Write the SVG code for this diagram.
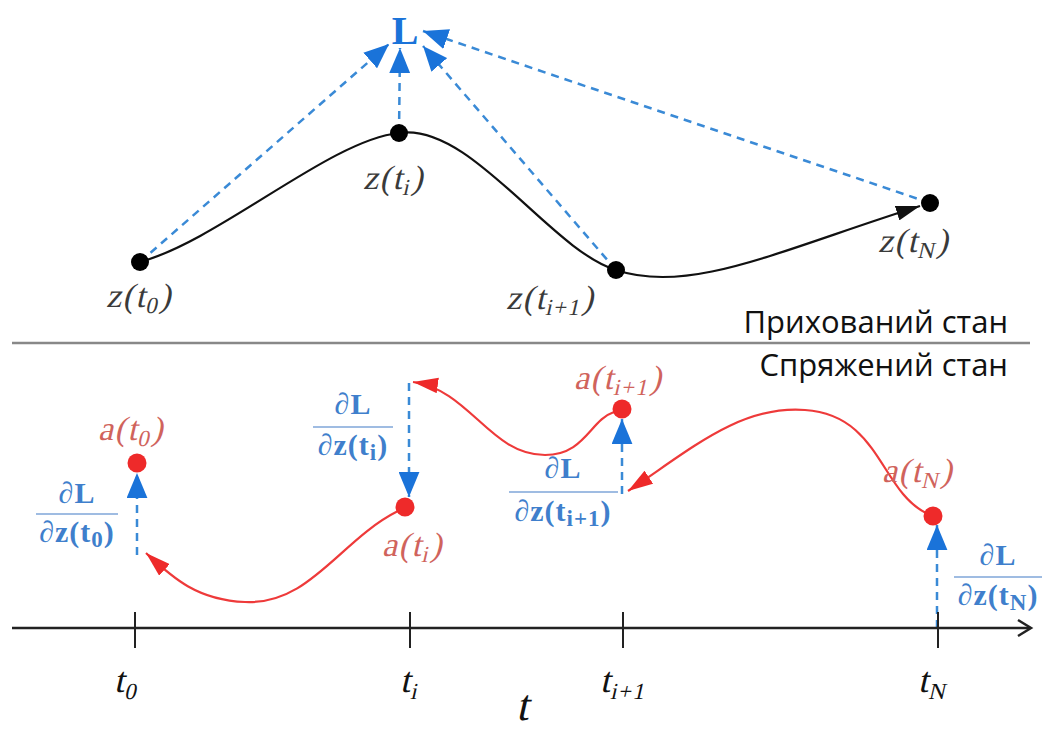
<svg xmlns="http://www.w3.org/2000/svg" width="1050" height="731" viewBox="0 0 1050 731">
<style>
.math{font-family:"Liberation Serif","Times New Roman",serif;font-style:normal;letter-spacing:1.5px;}
.zl{font-size:34px;fill:#3a3a3a;}
.al{font-size:34px;fill:#d0635c;}
.tl{font-size:36px;fill:#111;}
.fr{font-family:"Liberation Serif","Times New Roman",serif;font-weight:bold;font-size:30px;fill:#3f7fcc;text-anchor:middle;letter-spacing:1px;}
.fl{stroke:#7fa6d9;stroke-width:1.6;}
.sub{font-size:23px;}
.bd{stroke:#3a8ad6;stroke-width:2.5;stroke-dasharray:8 6;fill:none;}
.rc{stroke:#ee3a3a;stroke-width:2.2;fill:none;}
.lab{font-family:"Open Sans","Liberation Sans",sans-serif;font-size:31px;fill:#111;text-anchor:end;}
</style>
<defs>
<marker id="abig" viewBox="0 0 12 10" refX="12" refY="5" markerWidth="25" markerHeight="21" markerUnits="userSpaceOnUse" orient="auto">
<path d="M0,0 L12,5 L0,10 z" fill="#1a73d9"/>
</marker>
<marker id="ak" viewBox="0 0 16 10" refX="16" refY="5" markerWidth="24" markerHeight="15" markerUnits="userSpaceOnUse" orient="auto">
<path d="M0,0 L16,5 L0,10 z" fill="#111"/>
</marker>
<marker id="ar" viewBox="0 0 16 10" refX="16" refY="5" markerWidth="25" markerHeight="16" markerUnits="userSpaceOnUse" orient="auto">
<path d="M0,0 L16,5 L0,10 z" fill="#ee2a2a"/>
</marker>
</defs>

<g id="connectors">
<path d="M140,262 C220,240 330,140 399,133 C470,122 550,250 616,270 C690,295 780,250 920,206" stroke="#111" stroke-width="2.2" fill="none" marker-end="url(#ak)"/>
<path class="bd" d="M140,262 L389,44" marker-end="url(#abig)"/>
<path class="bd" d="M399,133 L400,48" marker-end="url(#abig)"/>
<path class="bd" d="M616,270 L423,46" marker-end="url(#abig)"/>
<path class="bd" d="M930,203 L423,31" marker-end="url(#abig)"/>
<line x1="12" y1="343" x2="1030" y2="343" stroke="#888" stroke-width="2.5"/>
<path class="bd" d="M137,555 L137,473" marker-end="url(#abig)"/>
<path class="bd" d="M409,383 L409,497" marker-end="url(#abig)"/>
<path class="bd" d="M622,494 L622,419" marker-end="url(#abig)"/>
<path class="bd" d="M937,628 L937,525" marker-end="url(#abig)"/>
<path class="rc" d="M926,513 C880,490 880,415 805,410 C740,405 690,450 628,491" marker-end="url(#ar)"/>
<path class="rc" d="M614,412 C590,420 585,455 545,455 C490,455 470,390 413,382" marker-end="url(#ar)"/>
<path class="rc" d="M398,511 C340,540 310,605 245,602 C195,600 170,575 146,553" marker-end="url(#ar)"/>
<line x1="12" y1="628" x2="1030" y2="628" stroke="#222" stroke-width="2.5"/>
<path d="M1018,620 L1031,628 L1018,636" stroke="#222" stroke-width="2.5" fill="none"/>
<line x1="135" y1="612" x2="135" y2="648" stroke="#222" stroke-width="2"/>
<line x1="410" y1="612" x2="410" y2="648" stroke="#222" stroke-width="2"/>
<line x1="623" y1="612" x2="623" y2="648" stroke="#222" stroke-width="2"/>
<line x1="938" y1="612" x2="938" y2="648" stroke="#222" stroke-width="2"/>
</g>

<g id="node-L"><text x="405" y="44" font-family="Liberation Serif,serif" font-weight="bold" font-size="40" fill="#1a73d9" text-anchor="middle">L</text></g>

<g id="node-z0"><circle cx="140" cy="262" r="9" fill="#000"/><text class="math zl" transform="translate(106 307) skewX(-13)">z(t<tspan class="sub" dy="6">0</tspan><tspan dy="-6">)</tspan></text></g>
<g id="node-zi"><circle cx="399" cy="133" r="9" fill="#000"/><text class="math zl" transform="translate(363 189) skewX(-13)">z(t<tspan class="sub" dy="6">i</tspan><tspan dy="-6">)</tspan></text></g>
<g id="node-zi1"><circle cx="616" cy="270" r="9" fill="#000"/><text class="math zl" transform="translate(506 309) skewX(-13)">z(t<tspan class="sub" dy="6">i+1</tspan><tspan dy="-6">)</tspan></text></g>
<g id="node-zN"><circle cx="930" cy="203" r="9" fill="#000"/><text class="math zl" transform="translate(878 252) skewX(-13)">z(t<tspan class="sub" dy="6">N</tspan><tspan dy="-6">)</tspan></text></g>

<g id="labels-state">
<text class="lab" x="1008" y="333">Прихований стан</text>
<text class="lab" x="1008" y="376">Спряжений стан</text>
</g>

<g id="node-a0"><circle cx="137" cy="463" r="9.5" fill="#ee2a2a"/><text class="math al" transform="translate(98 440) skewX(-13)">a(t<tspan class="sub" dy="6">0</tspan><tspan dy="-6">)</tspan></text></g>
<g id="node-ai"><circle cx="405" cy="507" r="9.5" fill="#ee2a2a"/><text class="math al" transform="translate(382 556) skewX(-13)">a(t<tspan class="sub" dy="6">i</tspan><tspan dy="-6">)</tspan></text></g>
<g id="node-ai1"><circle cx="622" cy="409" r="9.5" fill="#ee2a2a"/><text class="math al" transform="translate(574 389) skewX(-13)">a(t<tspan class="sub" dy="6">i+1</tspan><tspan dy="-6">)</tspan></text></g>
<g id="node-aN"><circle cx="933" cy="516" r="9.5" fill="#ee2a2a"/><text class="math al" transform="translate(882 482) skewX(-13)">a(t<tspan class="sub" dy="6">N</tspan><tspan dy="-6">)</tspan></text></g>

<g id="grad-t0"><text class="fr" x="77" y="503">∂L</text><line class="fl" x1="36" y1="514" x2="118" y2="514"/><text class="fr" x="77" y="542">∂z(t<tspan class="sub" dy="5">0</tspan><tspan dy="-5">)</tspan></text></g>
<g id="grad-ti"><text class="fr" x="353" y="414">∂L</text><line class="fl" x1="313" y1="427" x2="393" y2="427"/><text class="fr" x="353" y="455">∂z(t<tspan class="sub" dy="5">i</tspan><tspan dy="-5">)</tspan></text></g>
<g id="grad-ti1"><text class="fr" x="563" y="478">∂L</text><line class="fl" x1="509" y1="492" x2="618" y2="492"/><text class="fr" x="563" y="521">∂z(t<tspan class="sub" dy="5">i+1</tspan><tspan dy="-5">)</tspan></text></g>
<g id="grad-tN"><text class="fr" x="998" y="565">∂L</text><line class="fl" x1="954" y1="577" x2="1042" y2="577"/><text class="fr" x="998" y="605">∂z(t<tspan class="sub" dy="5">N</tspan><tspan dy="-5">)</tspan></text></g>

<g id="axis-labels">
<text class="math tl" transform="translate(114 692) skewX(-13)">t<tspan class="sub" font-size="25" dy="7">0</tspan></text>
<text class="math tl" transform="translate(400 692) skewX(-13)">t<tspan class="sub" font-size="25" dy="7">i</tspan></text>
<text class="math tl" transform="translate(600 692) skewX(-13)">t<tspan class="sub" font-size="25" dy="7">i+1</tspan></text>
<text class="math tl" transform="translate(918 692) skewX(-13)">t<tspan class="sub" font-size="25" dy="7">N</tspan></text>
<text class="math" transform="translate(516 720) skewX(-13)" font-size="44" fill="#111">t</text>
</g>
</svg>
